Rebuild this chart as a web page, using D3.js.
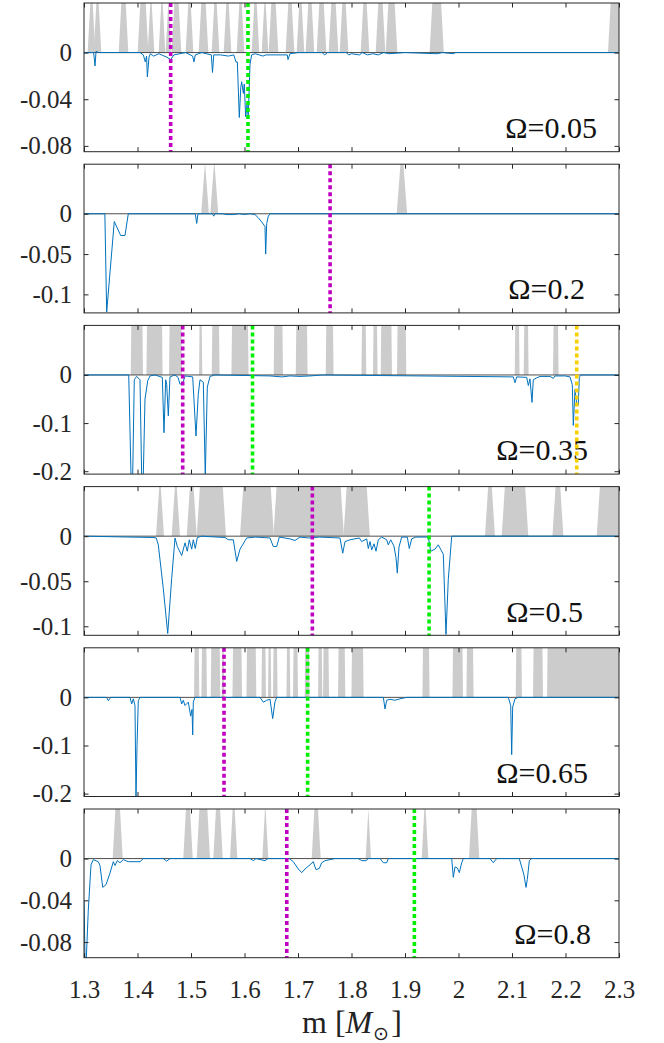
<!DOCTYPE html>
<html><head><meta charset="utf-8">
<script src="https://cdn.jsdelivr.net/npm/d3@7"></script>
<style>
body{margin:0;background:#fff;}
</style>
</head><body>
<svg id="c" width="664" height="1043"></svg>
<script>
// ---------------- data ----------------
const xTicks = [1.3,1.4,1.5,1.6,1.7,1.8,1.9,2.0,2.1,2.2,2.3];
const xTickLabels = ["1.3","1.4","1.5","1.6","1.7","1.8","1.9","2","2.1","2.2","2.3"];
const omegaLabels = ["\u03A9=0.05","\u03A9=0.2","\u03A9=0.35","\u03A9=0.5","\u03A9=0.65","\u03A9=0.8"];
const yMins = [-0.085,-0.123,-0.206,-0.11,-0.206,-0.095];
const yTicks = [[0,-0.04,-0.08],[0,-0.05,-0.1],[0,-0.1,-0.2],[0,-0.05,-0.1],[0,-0.1,-0.2],[0,-0.04,-0.08]];
const yTickLabels = [["0","-0.04","-0.08"],["0","-0.05","-0.1"],["0","-0.1","-0.2"],["0","-0.05","-0.1"],["0","-0.1","-0.2"],["0","-0.04","-0.08"]];
const magentaX = [1.462,1.76,1.4845,1.7268,1.5617,1.679];
const greenX = [1.6065,null,1.615,1.945,1.718,1.9175];
const yellowX = [null,null,2.221,null,null,null];

// shaded intervals (m) where the indicator is on
const shade1 = [[1.3093,1.3187],[1.3206,1.3299],[1.3673,1.3804],[1.4028,1.4178],[1.4215,1.429],[1.442,1.4495],[1.4551,1.4607],[1.4664,1.4794],[1.4925,1.5019],[1.5168,1.5299],[1.5411,1.5505],[1.5636,1.5729],[1.5879,1.5972],[1.6159,1.6252],[1.6346,1.642],[1.6477,1.6607],[1.6794,1.6907],[1.70,1.7093],[1.7168,1.728],[1.7374,1.7505],[1.7598,1.7729],[1.7804,1.7916],[1.8196,1.8308],[1.8477,1.8607],[1.8664,1.8832],[1.9485,1.97],[2.2819,2.31]];
const shade2 = [[1.5225,1.53],[1.5395,1.5475],[1.888,1.9005]];
const shade3 = [[1.3879,1.4097],[1.4172,1.4464],[1.4594,1.4826],[1.5155,1.5206],[1.5393,1.5529],[1.5761,1.6071],[1.6551,1.6714],[1.6963,1.7174],[1.7523,1.766],[1.8191,1.8271],[1.8407,1.8482],[1.8551,1.8751],[1.8856,1.9019],[2.1056,2.1136],[2.1224,2.1305],[2.1772,2.1866]];
const shade4 = [[1.4376,1.4465],[1.4669,1.4764],[1.495,1.5077],[1.5137,1.5624],[1.5946,1.652],[1.657,1.7828],[1.788,1.8314],[2.0525,2.0652],[2.0837,2.1275],[2.1785,2.1931],[2.2613,2.31]];
const shade5 = [[1.5062,1.515],[1.52,1.5293],[1.5374,1.5542],[1.558,1.5617],[1.578,1.5948],[1.6041,1.6215],[1.6322,1.6396],[1.6445,1.6495],[1.6538,1.6613],[1.6789,1.6851],[1.6912,1.6995],[1.7131,1.7211],[1.738,1.7449],[1.7473,1.7575],[1.7753,1.7879],[1.8004,1.8221],[1.9331,1.9454],[1.9892,2.0079],[2.0153,2.0277],[2.1075,2.1181],[2.1398,2.1574],[2.166,2.31]];
const shade6 = [[1.3561,1.3698],[1.4881,1.5007],[1.5132,1.533],[1.5442,1.5568],[1.5754,1.5841],[1.6358,1.642],[1.7281,1.7399],[1.829,1.834],[1.9337,1.9411],[2.0221,2.0364]];

// blue curves [m, value]
const line1 = [[1.3,0],[1.318,0],[1.3206,-0.0115],[1.3225,0.001],[1.327,0],[1.405,0],[1.4109,-0.002],[1.4146,-0.008],[1.417,-0.003],[1.4184,-0.0209],[1.4215,-0.004],[1.424,-0.001],[1.43,-0.003],[1.44,-0.001],[1.455,-0.004],[1.462,-0.006],[1.468,-0.002],[1.49,0],[1.503,-0.003],[1.5056,-0.008],[1.508,-0.002],[1.52,0],[1.538,-0.002],[1.5402,-0.0171],[1.5425,-0.002],[1.555,-0.002],[1.57,-0.003],[1.58,-0.002],[1.584,-0.008],[1.5866,-0.008],[1.5903,-0.0557],[1.593,-0.03],[1.5947,-0.025],[1.5978,-0.035],[1.5996,-0.027],[1.6022,-0.055],[1.6047,-0.045],[1.607,-0.055],[1.6103,-0.01],[1.6134,-0.002],[1.62,-0.001],[1.6346,-0.003],[1.64,-0.002],[1.68,-0.002],[1.6813,-0.006],[1.685,-0.001],[1.70,0],[1.745,0],[1.75,-0.002],[1.755,0],[1.79,0],[1.795,-0.002],[1.80,-0.001],[1.815,-0.002],[1.82,0],[1.83,-0.002],[1.84,-0.001],[1.85,-0.002],[1.86,0],[1.87,-0.001],[1.9,0],[1.96,-0.001],[1.97,0],[1.99,-0.001],[1.995,0],[2.3,0]];
const line2 = [[1.3,0],[1.339,0],[1.3424,-0.122],[1.3566,-0.0096],[1.3686,-0.027],[1.3766,-0.027],[1.3828,0],[1.508,0],[1.5107,-0.012],[1.513,0],[1.54,0],[1.5425,-0.003],[1.545,0],[1.56,0],[1.565,-0.001],[1.58,-0.001],[1.59,0],[1.60,-0.001],[1.61,0],[1.6196,-0.001],[1.6258,-0.005],[1.6321,-0.01],[1.6383,-0.0158],[1.6396,-0.05],[1.6415,-0.012],[1.6445,-0.003],[1.6477,0],[2.3,0]];
const line3 = [[1.3,0],[1.3836,0],[1.3879,-0.21],[1.391,-0.21],[1.394,-0.01],[1.3985,-0.003],[1.4047,-0.01],[1.4078,-0.21],[1.4108,-0.21],[1.414,-0.05],[1.4191,-0.012],[1.4234,-0.002],[1.4327,0],[1.4464,-0.005],[1.4495,-0.12],[1.4527,-0.01],[1.4546,-0.02],[1.4576,-0.085],[1.4607,-0.004],[1.47,0],[1.4757,-0.005],[1.4794,-0.019],[1.4845,-0.018],[1.4888,-0.002],[1.5032,-0.004],[1.5093,-0.127],[1.5136,-0.04],[1.5168,-0.01],[1.523,-0.015],[1.5267,-0.21],[1.5305,-0.025],[1.5355,-0.003],[1.5449,0],[1.6477,-0.002],[1.67,-0.004],[1.685,-0.002],[1.7037,-0.003],[1.7224,-0.002],[1.7467,0],[2.1024,-0.004],[2.1056,-0.016],[2.1088,-0.004],[2.1275,-0.005],[2.1305,-0.022],[2.1336,-0.008],[2.1374,-0.057],[2.1398,-0.01],[2.1462,-0.006],[2.1523,-0.003],[2.171,-0.003],[2.1772,-0.007],[2.1804,-0.002],[2.1991,-0.002],[2.2084,-0.004],[2.2127,-0.02],[2.2146,-0.105],[2.2178,-0.03],[2.2209,-0.06],[2.2239,-0.063],[2.2258,-0.005],[2.229,0],[2.3,0]];
const line4 = [[1.3,0],[1.4308,-0.0015],[1.435,-0.002],[1.4389,-0.0096],[1.4482,-0.058],[1.4565,-0.108],[1.4639,-0.047],[1.4701,-0.002],[1.4744,-0.0115],[1.4826,-0.0215],[1.4888,-0.0074],[1.4931,-0.0167],[1.4968,-0.004],[1.5013,-0.0144],[1.5043,-0.004],[1.508,-0.0137],[1.5118,-0.0015],[1.52,0],[1.5636,-0.0015],[1.5697,-0.004],[1.5791,-0.004],[1.5854,-0.028],[1.5916,-0.0144],[1.6041,-0.002],[1.62,-0.001],[1.6477,-0.002],[1.6538,-0.0115],[1.6602,-0.0115],[1.6651,-0.001],[1.6851,-0.003],[1.6944,-0.0048],[1.7037,-0.001],[1.72,-0.002],[1.74,-0.001],[1.7785,-0.002],[1.7836,-0.0189],[1.7879,-0.006],[1.7972,-0.004],[1.8146,-0.002],[1.8191,-0.006],[1.8284,-0.003],[1.8314,-0.0137],[1.8346,-0.006],[1.8378,-0.0152],[1.8421,-0.0085],[1.8458,-0.0167],[1.8501,-0.004],[1.8564,-0.001],[1.8658,-0.004],[1.8688,-0.0096],[1.8733,-0.004],[1.8794,-0.011],[1.8832,-0.024],[1.8856,-0.041],[1.8888,-0.012],[1.8938,-0.001],[1.9043,-0.001],[1.908,-0.0137],[1.9125,-0.003],[1.92,-0.001],[1.9436,-0.001],[1.948,-0.0167],[1.9561,-0.0144],[1.9622,-0.0096],[1.9716,-0.02],[1.9766,-0.109],[1.9809,-0.048],[1.9873,0],[2.3,0]];
const line5 = [[1.3,0],[1.3424,0],[1.3455,-0.007],[1.3499,0],[1.386,0],[1.3892,-0.0136],[1.3922,-0.003],[1.3953,-0.017],[1.3972,-0.21],[1.3991,-0.1],[1.4015,-0.007],[1.4047,0],[1.4794,0],[1.4826,-0.0136],[1.4856,-0.006],[1.4888,-0.017],[1.495,-0.01],[1.4994,-0.039],[1.5019,-0.025],[1.5032,-0.078],[1.5043,-0.01],[1.5075,0],[1.629,0],[1.6352,-0.01],[1.6415,-0.006],[1.6477,-0.004],[1.6527,-0.044],[1.657,-0.009],[1.6602,0],[1.8595,0],[1.8626,-0.024],[1.8658,-0.006],[1.872,-0.004],[1.8813,-0.006],[1.8907,-0.003],[1.9032,0],[2.0931,0],[2.0976,-0.017],[2.0994,-0.119],[2.1013,-0.02],[2.1056,-0.003],[2.1118,0],[2.3,0]];
const line6 = [[1.3,-0.04],[1.3019,-0.096],[1.3043,-0.096],[1.308,-0.05],[1.3131,-0.006],[1.3174,-0.001],[1.3267,-0.003],[1.3299,-0.0067],[1.335,-0.0276],[1.3411,-0.025],[1.3486,-0.0138],[1.3548,-0.003],[1.3579,-0.0066],[1.3622,-0.002],[1.3673,-0.004],[1.3735,-0.001],[1.3828,-0.003],[1.4047,-0.003],[1.4109,0],[1.4482,0],[1.4546,-0.0025],[1.4607,0],[1.6103,0],[1.6165,-0.002],[1.6215,0],[1.6383,-0.002],[1.644,0],[1.6837,0],[1.6912,-0.003],[1.7006,-0.01],[1.7069,-0.0135],[1.7131,-0.01],[1.7224,-0.006],[1.7286,-0.003],[1.7336,-0.0106],[1.7398,-0.0095],[1.7443,-0.004],[1.7505,-0.002],[1.7598,-0.001],[1.7692,0],[1.8127,0],[1.8191,-0.002],[1.8271,-0.002],[1.8314,0],[1.8533,0],[1.8595,-0.004],[1.8658,-0.004],[1.8688,0],[1.9873,0],[1.9903,-0.018],[1.9935,-0.008],[1.9978,-0.009],[2.0015,-0.0135],[2.006,-0.004],[2.009,0],[2.0589,0],[2.065,-0.004],[2.0714,0],[2.1136,0],[2.1181,-0.008],[2.1224,-0.0157],[2.1262,-0.0276],[2.1286,-0.02],[2.1324,-0.002],[2.1368,0],[2.3,0]];

// ---------------- layout / style ----------------
const shades = [shade1,shade2,shade3,shade4,shade5,shade6];
const lines = [line1,line2,line3,line4,line5,line6];
const ramps = [0.005,0.007,0.001,0.006,0.001,0.005];
const labelRight = [597,585,588,583,588,591];
const L = 84, R = 619, T0 = 3, STEP = 161.2, PH = 148.7;
const FRAME = "#262626";
const FONT = '"Liberation Serif"';

const svg = d3.select("#c");
const x = d3.scaleLinear().domain([1.3,2.3]).range([L,R]);

function serif(sel, size){
  sel.style("font-family", FONT).style("font-size", size + "px");
  return sel;
}

shades.forEach((shade,i)=>{
  const top = T0 + i*STEP;
  const ymin = yMins[i], ymax = -yMins[i]/2;
  const y = d3.scaleLinear().domain([ymin,ymax]).range([top+PH, top]);
  const g = svg.append("g");
  const cid = "clip"+i;
  svg.append("clipPath").attr("id",cid).append("rect")
     .attr("x",L).attr("y",top).attr("width",R-L).attr("height",PH);
  const pg = g.append("g").attr("clip-path",`url(#${cid})`);

  // gray indicator areas
  const r = ramps[i];
  const area = d3.area().x(d=>x(d[0])).y0(y(0)).y1(d=>y(d[1]*ymax));
  shade.forEach(([a,b])=>{
    const mid = (a+b)/2;
    const pts = [[a-r/2,0],[Math.min(a+r/2,mid),1],[Math.max(b-r/2,mid),1],[b+r/2,0]];
    pg.append("path").attr("d",area(pts)).attr("fill","#cccccc").attr("stroke","none");
  });

  // dark zero baseline
  pg.append("line").attr("x1",L).attr("x2",R).attr("y1",y(0)).attr("y2",y(0))
    .attr("stroke","#3a3a3a").attr("stroke-width",0.9);

  // blue curve
  const ln = d3.line().x(d=>x(d[0])).y(d=>y(d[1]));
  pg.append("path").attr("d",ln(lines[i])).attr("fill","none")
    .attr("stroke","#0072BD").attr("stroke-width",1).attr("stroke-linejoin","round");

  // omega label
  serif(g.append("text").attr("x",labelRight[i]).attr("y",top+135)
    .attr("text-anchor","end").attr("fill","#111"), 30).text(omegaLabels[i]);

  // dotted vertical lines
  const vlines = [[magentaX[i],"#c000c0"],[greenX[i],"#00ee00"],[yellowX[i],"#f8d000"]];
  vlines.forEach(([v,c])=>{
    if(v==null) return;
    g.append("line").attr("x1",x(v)).attr("x2",x(v)).attr("y1",top).attr("y2",top+PH)
      .attr("stroke",c).attr("stroke-width",3.6).attr("stroke-dasharray","4 3");
  });

  // axes (inward ticks)
  const ax = g.append("g");
  const bottomAxis = d3.axisBottom(x).tickValues(xTicks).tickSizeInner(-4.5).tickSizeOuter(0).tickPadding(23)
     .tickFormat((d,k)=> i===5 ? xTickLabels[k] : "");
  ax.append("g").attr("transform",`translate(0,${top+PH})`).call(bottomAxis);
  const topAxis = d3.axisTop(x).tickValues(xTicks).tickSizeInner(-4.5).tickSizeOuter(0).tickFormat("");
  ax.append("g").attr("transform",`translate(0,${top})`).call(topAxis);
  const leftAxis = d3.axisLeft(y).tickValues(yTicks[i]).tickSizeInner(-4.5).tickSizeOuter(0).tickPadding(12)
     .tickFormat((d,k)=>yTickLabels[i][k]);
  ax.append("g").attr("transform",`translate(${L},0)`).call(leftAxis);
  const rightAxis = d3.axisRight(y).tickValues(yTicks[i]).tickSizeInner(-4.5).tickSizeOuter(0).tickFormat("");
  ax.append("g").attr("transform",`translate(${R},0)`).call(rightAxis);
  ax.selectAll(".domain").remove();
  ax.selectAll("g").attr("font-family",null).attr("font-size",null);
  ax.selectAll(".tick line").attr("stroke",FRAME).attr("stroke-width",1);
  serif(ax.selectAll(".tick text").attr("fill",FRAME), 25);

  // frame
  g.append("rect").attr("x",L).attr("y",top).attr("width",R-L).attr("height",PH)
    .attr("fill","none").attr("stroke",FRAME).attr("stroke-width",1);
});

// x-axis label  m [M_sun]
const xl = serif(svg.append("text").attr("x",302).attr("y",1033).attr("fill","#222"), 32);
xl.append("tspan").text("m [");
xl.append("tspan").style("font-style","italic").text("M");
xl.append("tspan").style("font-size","19px").attr("dy",7).attr("dx",1).text("\u2299");
xl.append("tspan").attr("dy",-7).attr("dx",2).text("]");
</script>
</body></html>
